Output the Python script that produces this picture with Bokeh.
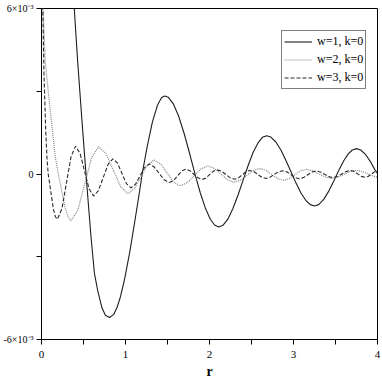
from bokeh.plotting import figure
from bokeh.models import Range1d, FixedTicker, Label, Legend, LegendItem
from bokeh.embed import file_html
from bokeh.resources import INLINE
import math

# values of delta sigma in units of 1e-3
r_w1 = [0.28, 0.33, 0.39, 0.43, 0.48, 0.53, 0.555, 0.59, 0.63, 0.67, 0.72, 0.76, 0.81,
        0.86, 0.90, 0.94, 0.99, 1.05, 1.10, 1.16, 1.20, 1.26, 1.32, 1.38, 1.43, 1.467,
        1.51, 1.57, 1.63, 1.70, 1.77, 1.83, 1.89, 1.95, 2.01, 2.06, 2.11,
        2.16, 2.22, 2.28, 2.34, 2.40, 2.46, 2.52, 2.58, 2.63, 2.68,
        2.73, 2.79, 2.85, 2.91, 2.97, 3.03, 3.09, 3.15, 3.20, 3.25,
        3.30, 3.36, 3.42, 3.48, 3.54, 3.60, 3.65, 3.70, 3.75,
        3.80, 3.86, 3.92, 3.97, 4.00]
s_w1 = [11.0, 8.6, 6.0, 4.1, 2.0, 0.0, -0.98, -2.3, -3.6, -4.24, -4.85, -5.12, -5.2,
        -5.09, -4.83, -4.45, -3.80, -2.84, -1.92, -0.78, 0.03, 1.02, 1.88, 2.49, 2.77, 2.83,
        2.78, 2.54, 2.12, 1.45, 0.67, -0.03, -0.68, -1.23, -1.64, -1.85, -1.92,
        -1.86, -1.63, -1.24, -0.76, -0.22, 0.31, 0.79, 1.14, 1.33, 1.39,
        1.34, 1.16, 0.87, 0.49, 0.08, -0.33, -0.70, -0.97, -1.11, -1.16,
        -1.11, -0.92, -0.62, -0.25, 0.14, 0.49, 0.72, 0.87, 0.92,
        0.87, 0.70, 0.43, 0.15, 0.02]

r_w2 = [0.0, 0.02, 0.044, 0.09, 0.13, 0.165, 0.20, 0.24, 0.28, 0.31, 0.35,
        0.4325, 0.515, 0.5975, 0.68, 0.7675, 0.855, 0.9425, 1.03,
        1.1075, 1.185, 1.2625, 1.34, 1.4175, 1.495, 1.5725, 1.65,
        1.7325, 1.815, 1.8975, 1.98, 2.0575, 2.135, 2.2125, 2.29,
        2.3675, 2.445, 2.5225, 2.60, 2.67, 2.74, 2.81, 2.88,
        2.9475, 3.015, 3.0825, 3.15, 3.225, 3.30, 3.375, 3.45,
        3.525, 3.60, 3.675, 3.75, 3.8175, 3.885, 3.9525, 4.0]
s_w2 = [8.5, 6.0, 4.1, 2.7, 1.56, 0.6, 0.0, -0.6, -1.2, -1.5, -1.70,
        -1.31, -0.355, 0.60, 0.99, 0.74, 0.14, -0.46, -0.71,
        -0.53, -0.10, 0.33, 0.51, 0.37, 0.04, -0.29, -0.43,
        -0.32, -0.07, 0.18, 0.29, 0.20, 0.0, -0.21, -0.30,
        -0.23, -0.05, 0.13, 0.20, 0.14, -0.015, -0.17, -0.23,
        -0.17, -0.03, 0.11, 0.17, 0.12, 0.005, -0.11, -0.16,
        -0.12, -0.015, 0.09, 0.13, 0.09, 0.005, -0.08, -0.115]

r_w3 = [0.0, 0.015, 0.03, 0.05, 0.065, 0.08, 0.11, 0.14, 0.165, 0.19,
        0.244, 0.2975, 0.351, 0.405, 0.459, 0.5125, 0.566, 0.62,
        0.6775, 0.735, 0.7925, 0.85, 0.904, 0.9575, 1.011, 1.065,
        1.119, 1.1725, 1.226, 1.28, 1.34, 1.40, 1.46, 1.52,
        1.57, 1.62, 1.67, 1.72, 1.7675, 1.815, 1.8625, 1.91,
        1.955, 2.0, 2.045, 2.09, 2.1425, 2.195, 2.2475, 2.30,
        2.345, 2.39, 2.435, 2.48, 2.5275, 2.575, 2.6225, 2.67,
        2.72, 2.77, 2.82, 2.87, 2.92, 2.97, 3.02, 3.07,
        3.12, 3.17, 3.22, 3.27, 3.32, 3.37, 3.42, 3.47,
        3.5225, 3.575, 3.6275, 3.68, 3.7225, 3.765, 3.8075, 3.85,
        3.8875, 3.925, 3.9625, 4.0]
s_w3 = [8.5, 6.0, 3.6, 1.6, 0.6, 0.0, -0.62, -1.25, -1.55, -1.64,
        -1.25, -0.315, 0.62, 1.01, 0.75, 0.105, -0.535, -0.80,
        -0.60, -0.125, 0.35, 0.55, 0.40, 0.025, -0.35, -0.50,
        -0.37, -0.07, 0.23, 0.36, 0.26, 0.025, -0.21, -0.31,
        -0.24, -0.065, 0.11, 0.18, 0.12, -0.01, -0.14, -0.20,
        -0.15, -0.025, 0.10, 0.15, 0.10, -0.02, -0.14, -0.19,
        -0.14, -0.03, 0.08, 0.13, 0.09, -0.015, -0.12, -0.16,
        -0.12, -0.02, 0.08, 0.12, 0.08, -0.025, -0.13, -0.17,
        -0.13, -0.03, 0.07, 0.11, 0.075, -0.01, -0.095, -0.13,
        -0.09, 0.0, 0.09, 0.13, 0.095, 0.005, -0.085, -0.12,
        -0.09, -0.01, 0.07, 0.10]

series_labels = ["w=1, k=0", "w=2, k=0", "w=3, k=0"]
x_ticks = [0, 0.5, 1, 1.5, 2, 2.5, 3, 3.5, 4]
x_tick_labels = ["0", "", "1", "", "2", "", "3", "", "4"]
y_ticks = [-6, -3, 0, 3, 6]
y_tick_labels = ["-6×10⁻³", "", "0", "", "6×10⁻³"]

SERIF = "Liberation Serif"
W, H = 380, 382
BL, BR, BT, BB = 38, 3, 8, 43

p = figure(width=W, height=H, x_range=Range1d(0, 4), y_range=Range1d(-6, 6),
           output_backend="svg", toolbar_location=None,
           min_border_left=BL, min_border_right=BR, min_border_top=BT, min_border_bottom=BB)
p.grid.visible = False
p.outline_line_color = "black"
p.outline_line_width = 1
p.background_fill_color = "white"
p.border_fill_color = "white"

l1 = p.line(r_w1, s_w1, line_color="#1e1e1e", line_width=1.1)
l2 = p.line(r_w2, s_w2, line_color="#858585", line_width=1.2, line_dash="1 1")
l3 = p.line(r_w3, s_w3, line_color="#2a2a2a", line_width=1.1, line_dash="4 2")

xa = p.xaxis[0]
xa.ticker = FixedTicker(ticks=x_ticks)
xa.major_label_overrides = {t: lab for t, lab in zip(x_ticks, x_tick_labels)}
xa.minor_tick_line_color = None
xa.major_tick_out = 5
xa.major_tick_in = 0
xa.major_label_standoff = 6
xa.major_label_text_font = SERIF
xa.major_label_text_font_size = "11px"
xa.major_label_text_color = "black"
xa.axis_line_color = "black"
xa.major_tick_line_color = "black"
xa.axis_label = "r"
xa.axis_label_text_font = SERIF
xa.axis_label_text_font_size = "14px"
xa.axis_label_text_font_style = "bold"
xa.axis_label_text_color = "black"
xa.axis_label_standoff = 3

ya = p.yaxis[0]
ya.ticker = FixedTicker(ticks=y_ticks)
ya.major_label_overrides = {t: lab for t, lab in zip(y_ticks, y_tick_labels)}
ya.minor_tick_line_color = None
ya.major_tick_out = 5
ya.major_tick_in = 0
ya.major_label_standoff = 3
ya.major_label_text_font = SERIF
ya.major_label_text_font_size = "10px"
ya.major_label_text_color = "black"
ya.axis_line_color = "black"
ya.major_tick_line_color = "black"

# y axis title drawn as a rotated label placed in the left margin
px_per_unit = (W - BL - BR) / 4.0
p.add_layout(Label(x=-(BL - 12) / px_per_unit, y=0, x_units="data", y_units="data",
                   text="δ̃σ(r)", angle=math.pi / 2, text_align="center",
                   text_baseline="middle", text_font=SERIF, text_font_size="14px",
                   text_font_style="bold", text_color="black"))

legend = Legend(items=[LegendItem(label=series_labels[0], renderers=[l1]),
                       LegendItem(label=series_labels[1], renderers=[l2]),
                       LegendItem(label=series_labels[2], renderers=[l3])],
                location=(240, 250))
legend.label_text_font = SERIF
legend.label_text_font_size = "12px"
legend.label_text_color = "black"
legend.glyph_width = 28
legend.glyph_height = 17
legend.label_height = 17
legend.label_standoff = 5
legend.spacing = 1
legend.padding = 2
legend.margin = 0
legend.border_line_color = "black"
legend.border_line_width = 1
legend.background_fill_color = "white"
legend.background_fill_alpha = 1.0
p.add_layout(legend, "center")

open("out.html", "w").write(file_html(p, INLINE))
